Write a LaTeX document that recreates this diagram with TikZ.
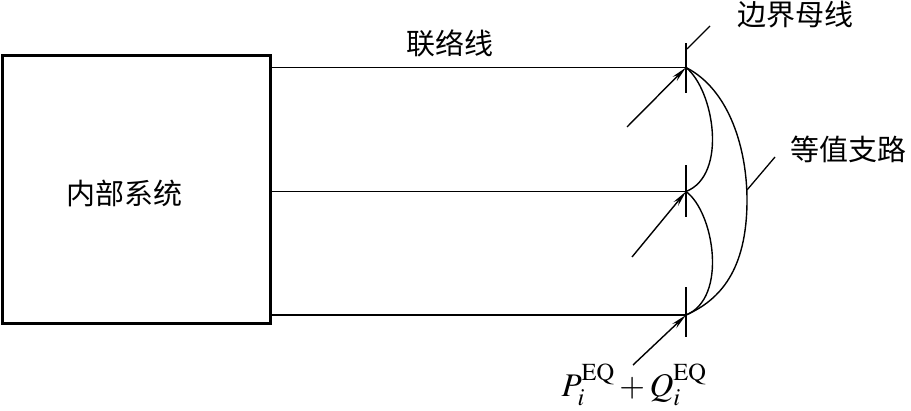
\documentclass[tikz,border=0pt]{standalone}
\usepackage{mathptmx}
\usepackage{fontspec}
\newfontfamily\cjk{Noto Sans CJK SC}
\usetikzlibrary{arrows.meta}
\tikzset{
  sysbox/.style={draw, line width=3.4pt, minimum width=268pt, minimum height=268pt, inner sep=0pt},
  tie/.style={line width=1.4pt},
  tiethin/.style={line width=0.8pt},
  bus/.style={line width=1.3pt},
  branch/.style={line width=1.4pt},
  inj/.style={line width=1.4pt, -{Stealth[length=16pt,width=6pt]}},
  tick/.style={line width=1.3pt},
  cjklabel/.style={font=\cjk\fontsize{29}{32}\selectfont, inner sep=0pt},
}
\begin{document}
\begin{tikzpicture}[x=1pt,y=-1pt]
\useasboundingbox (0,0) rectangle (911,410);
% internal system box
\node[sysbox] (sys) at (136.5,189.5) {};
\node[cjklabel] (syslbl) at (124,193) {内部系统};
% bus points
\coordinate (b1) at (686,67.5);
\coordinate (b2) at (686,191.5);
\coordinate (b3) at (686,315);
\coordinate (b1t) at (686,43);
\coordinate (b1b) at (686,93);
\coordinate (b2t) at (686,165);
\coordinate (b2b) at (686,217);
\coordinate (b3t) at (686,287);
\coordinate (b3b) at (686,337);
% tie lines
\draw[tiethin] (sys.east |- b1) -- (b1);
\draw[tie] (sys.east |- b2) -- (b2);
\draw[tie] (sys.east |- b3) -- (b3);
\node[cjklabel] (tielbl) at (450,43) {联络线};
% bus bars
\draw[bus] (b1t) -- (b1b);
\draw[bus] (b2t) -- (b2b);
\draw[bus] (b3t) -- (b3b);
% equivalent branches
\draw[branch] (b1) .. controls (714,90) and (728,175) .. (b2);
\draw[branch] (b2) .. controls (714,212) and (728,298) .. (b3);
\coordinate (om) at (747,200);
\draw[branch] (b1) .. controls (730,90) and (747,150) .. (om)
  .. controls (747,270) and (720,300) .. (b3);
% injections
\coordinate (i1) at (627,127);
\coordinate (i2) at (632,257);
\coordinate (i3) at (633,365);
\draw[inj] (i1) -- (b1);
\draw[inj] (i2) -- (b2);
\draw[inj] (i3) -- (b3);
% labels
\coordinate (t1a) at (687,49);
\coordinate (t1b) at (710,26);
\draw[tick] (t1a) -- (t1b);
\node[cjklabel] (buslbl) at (795,15) {边界母线};
\coordinate (t2a) at (747,190);
\coordinate (t2b) at (775,157);
\draw[tick] (t2a) -- (t2b);
\node[cjklabel] (brlbl) at (848,149) {等值支路};
\node[inner sep=0pt, font=\fontsize{33}{38}\selectfont] (pq) at (634,385) {$P_i^{\mathrm{EQ}}+Q_i^{\mathrm{EQ}}$};
\end{tikzpicture}
\end{document}
